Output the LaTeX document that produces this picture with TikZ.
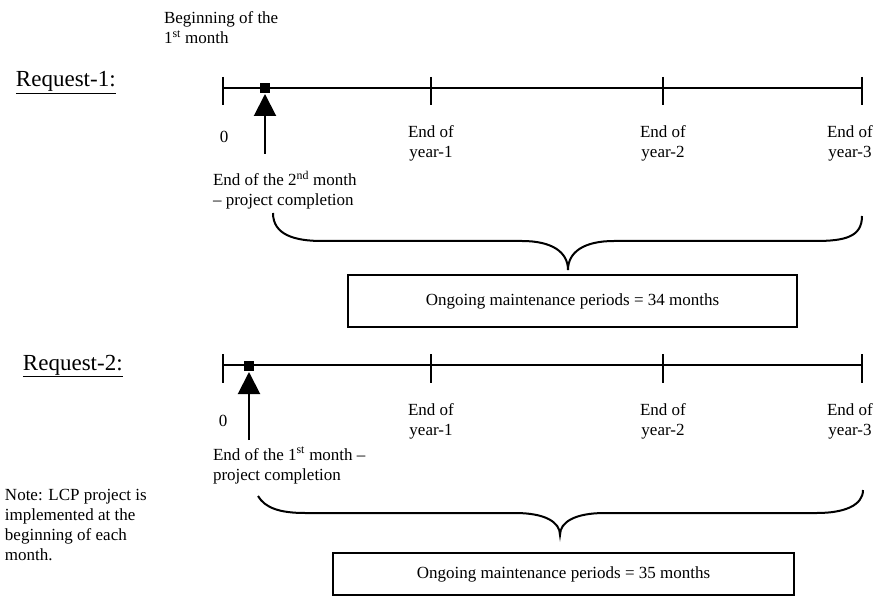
\documentclass[tikz,border=0pt]{standalone}
\usepackage{fontspec}
\setmainfont{Liberation Serif}
\usetikzlibrary{arrows.meta}
\begin{document}
\begin{tikzpicture}[x=1pt,y=-1pt,line width=2pt,
  txt/.style={font=\fontsize{17}{20}\selectfont, inner sep=0pt, align=left},
  ctxt/.style={font=\fontsize{17}{20}\selectfont, inner sep=0pt, align=center, anchor=base},
  req/.style={font=\fontsize{23}{26}\selectfont, inner sep=0pt, anchor=base west},
  marker/.style={fill=black, draw=none, rectangle, minimum size=10pt, inner sep=0pt},
  mbox/.style={draw, line width=2pt, inner sep=0pt, font=\fontsize{17}{20}\selectfont},
  uparrow/.style={-{Triangle[width=22pt,length=22pt]}, line width=2pt},
  bracepath/.style={line width=2pt}]
\useasboundingbox (0,0) rectangle (876,596);

% ---------- Request-1 ----------
\node[req] (r1) at (15,87) {\underline{Request-1:}};
\node[txt, anchor=base west] (beg) at (163,43.5) {Beginning of the\\1\textsuperscript{st} month};

\coordinate (l1s) at (223,88);
\coordinate (l1e) at (862,88);
\draw (l1s) -- (l1e);
\foreach \x in {223,431,663,862} \draw (\x,77) -- (\x,105);
\node[marker] (sq1) at (265,88) {};
\coordinate (a1b) at (265,154);
\draw[uparrow] (a1b) -- (sq1.south);

\node[ctxt] (z1) at (224,143) {0};
\node[ctxt] (e11) at (431,157.5) {End of\\year-1};
\node[ctxt] (e12) at (663,157.5) {End of\\year-2};
\node[ctxt] (e13) at (850,157.5) {End of\\year-3};
\node[txt, anchor=base west] (c1) at (212,206) {End of the 2\textsuperscript{nd} month\\– project completion};

\draw[bracepath] (273,213) .. controls (273,235) and (295,241) .. (322,241)
  -- (522,241) .. controls (552,241) and (568,252) .. (568,270)
  .. controls (568,252) and (584,241) .. (614,241)
  -- (815,241) .. controls (845,241) and (862,237) .. (862,216);

\node[mbox, minimum width=449pt, minimum height=52pt] (b1) at (572.5,301) {Ongoing maintenance periods = 34 months};

% ---------- Request-2 ----------
\node[req] (r2) at (22,370) {\underline{Request-2:}};

\coordinate (l2s) at (223,365);
\coordinate (l2e) at (862,365);
\draw (l2s) -- (l2e);
\foreach \x in {223,431,663,862} \draw (\x,354) -- (\x,383);
\node[marker] (sq2) at (249,366) {};
\coordinate (a2b) at (249,440);
\draw[uparrow] (a2b) -- (sq2.south);

\node[ctxt] (z2) at (223,426) {0};
\node[ctxt] (e21) at (431,435.5) {End of\\year-1};
\node[ctxt] (e22) at (663,435.5) {End of\\year-2};
\node[ctxt] (e23) at (850,435.5) {End of\\year-3};
\node[txt, anchor=base west] (c2) at (212,480) {End of the 1\textsuperscript{st} month –\\project completion};

\draw[bracepath] (258,496) .. controls (265,508) and (280,513) .. (305,513)
  -- (515,513) .. controls (545,513) and (560,522) .. (560,535)
  .. controls (560,522) and (575,513) .. (605,513)
  -- (817,513) .. controls (845,513) and (863,505) .. (863,490);

\node[mbox, minimum width=461pt, minimum height=42pt] (b2) at (563.5,574) {Ongoing maintenance periods = 35 months};

\node[txt, anchor=base west] (note) at (4,560) {Note: LCP project is\\implemented at the\\beginning of each\\month.};
\end{tikzpicture}
\end{document}
